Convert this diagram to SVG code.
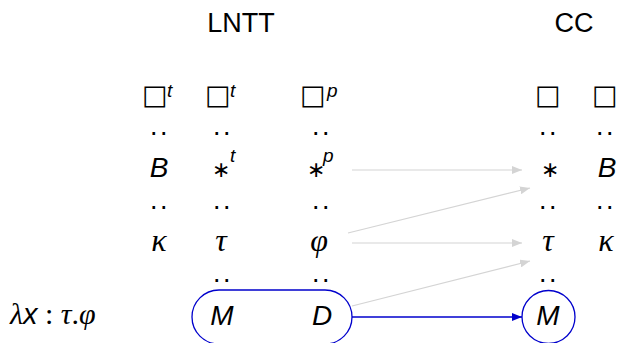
<svg xmlns="http://www.w3.org/2000/svg" width="617" height="343" viewBox="0 0 617 343">
<style>
.t{font-family:"Liberation Sans",Arial,sans-serif;font-size:27px;fill:#000}
.i{font-family:"Liberation Sans",Arial,sans-serif;font-style:italic;font-size:28px;fill:#000}
.g{font-family:"Liberation Serif","DejaVu Serif",serif;font-style:italic;font-size:32px;fill:#000}
.sq{font-family:"DejaVu Sans",sans-serif;font-size:27px;fill:#000}
.ast{font-family:"DejaVu Sans",sans-serif;font-size:22px;fill:#000}
.sup{font-family:"Liberation Sans",Arial,sans-serif;font-style:italic;font-size:19px;fill:#000}
.d{font-family:"Liberation Sans",Arial,sans-serif;font-size:27px;letter-spacing:2.5px;fill:#000}
.gr{stroke:#d4d4d4;stroke-width:1.2;fill:none}
.bl{stroke:#0000cc;stroke-width:1.3;fill:none}
</style>
<defs>
<marker id="ag" markerWidth="10" markerHeight="8" refX="10" refY="4" orient="auto" markerUnits="userSpaceOnUse"><path d="M0,0 L10,4 L0,8 z" fill="#d4d4d4"/></marker>
<marker id="ab" markerWidth="10" markerHeight="8" refX="10" refY="4" orient="auto" markerUnits="userSpaceOnUse"><path d="M0,0 L10,4 L0,8 z" fill="#0000cc"/></marker>
</defs>
<g id="titles">
<text class="t" x="241" y="32" text-anchor="middle">LNTT</text>
<text class="t" x="574" y="32" text-anchor="middle">CC</text>
</g>
<g id="col1">
<text class="sq" x="142" y="104">□</text><text class="sup" x="167" y="97">t</text>
<text class="d" x="160" y="135" text-anchor="middle">..</text>
<text class="i" x="159" y="177" text-anchor="middle">B</text>
<text class="d" x="160" y="209" text-anchor="middle">..</text>
<text class="g" x="159" y="251" text-anchor="middle">κ</text>
</g>
<g id="col2">
<text class="sq" x="205" y="104">□</text><text class="sup" x="230" y="97">t</text>
<text class="d" x="223" y="135" text-anchor="middle">..</text>
<text class="ast" x="212" y="177">∗</text><text class="sup" x="230" y="162">t</text>
<text class="d" x="223" y="209" text-anchor="middle">..</text>
<text class="g" x="221" y="251" text-anchor="middle">τ</text>
<text class="d" x="223" y="282" text-anchor="middle">..</text>
</g>
<g id="col3">
<text class="sq" x="300" y="104">□</text><text class="sup" x="327" y="97">p</text>
<text class="d" x="322" y="135" text-anchor="middle">..</text>
<text class="ast" x="307" y="177">∗</text><text class="sup" x="323" y="162">p</text>
<text class="d" x="322" y="209" text-anchor="middle">..</text>
<text class="g" x="319" y="251" text-anchor="middle">φ</text>
<text class="d" x="322" y="282" text-anchor="middle">..</text>
</g>
<g id="lambda">
<text class="g" x="10" y="324" style="font-size:30px">λ<tspan class="i" style="font-size:29px">x</tspan><tspan style="font-style:normal"> : </tspan>τ<tspan style="font-style:normal">.</tspan>φ</text>
</g>
<g id="nodeMD">
<rect class="bl" x="192" y="290" width="160" height="54" rx="27" ry="27"/>
<text class="i" x="222" y="325" text-anchor="middle">M</text>
<text class="i" x="322" y="325" text-anchor="middle">D</text>
</g>
<g id="cc1">
<text class="sq" x="535" y="104">□</text>
<text class="d" x="549" y="135" text-anchor="middle">..</text>
<text class="ast" x="541" y="177">∗</text>
<text class="d" x="549" y="209" text-anchor="middle">..</text>
<text class="g" x="548" y="251" text-anchor="middle">τ</text>
<text class="d" x="549" y="282" text-anchor="middle">..</text>
</g>
<g id="cc2">
<text class="sq" x="592" y="104">□</text>
<text class="d" x="606" y="135" text-anchor="middle">..</text>
<text class="i" x="607" y="177" text-anchor="middle">B</text>
<text class="d" x="606" y="209" text-anchor="middle">..</text>
<text class="g" x="606" y="251" text-anchor="middle">κ</text>
</g>
<g id="nodeM">
<circle class="bl" cx="548.5" cy="317" r="26.5"/>
<text class="i" x="548" y="325" text-anchor="middle">M</text>
</g>
<g id="connectors">
<line class="gr" x1="352" y1="170" x2="522" y2="170" marker-end="url(#ag)"/>
<line class="gr" x1="348" y1="233" x2="530" y2="188" marker-end="url(#ag)"/>
<line class="gr" x1="352" y1="243" x2="522" y2="243" marker-end="url(#ag)"/>
<line class="gr" x1="352" y1="306" x2="530" y2="261" marker-end="url(#ag)"/>
<line class="bl" x1="352" y1="317" x2="522" y2="317" marker-end="url(#ab)"/>
</g>
</svg>
